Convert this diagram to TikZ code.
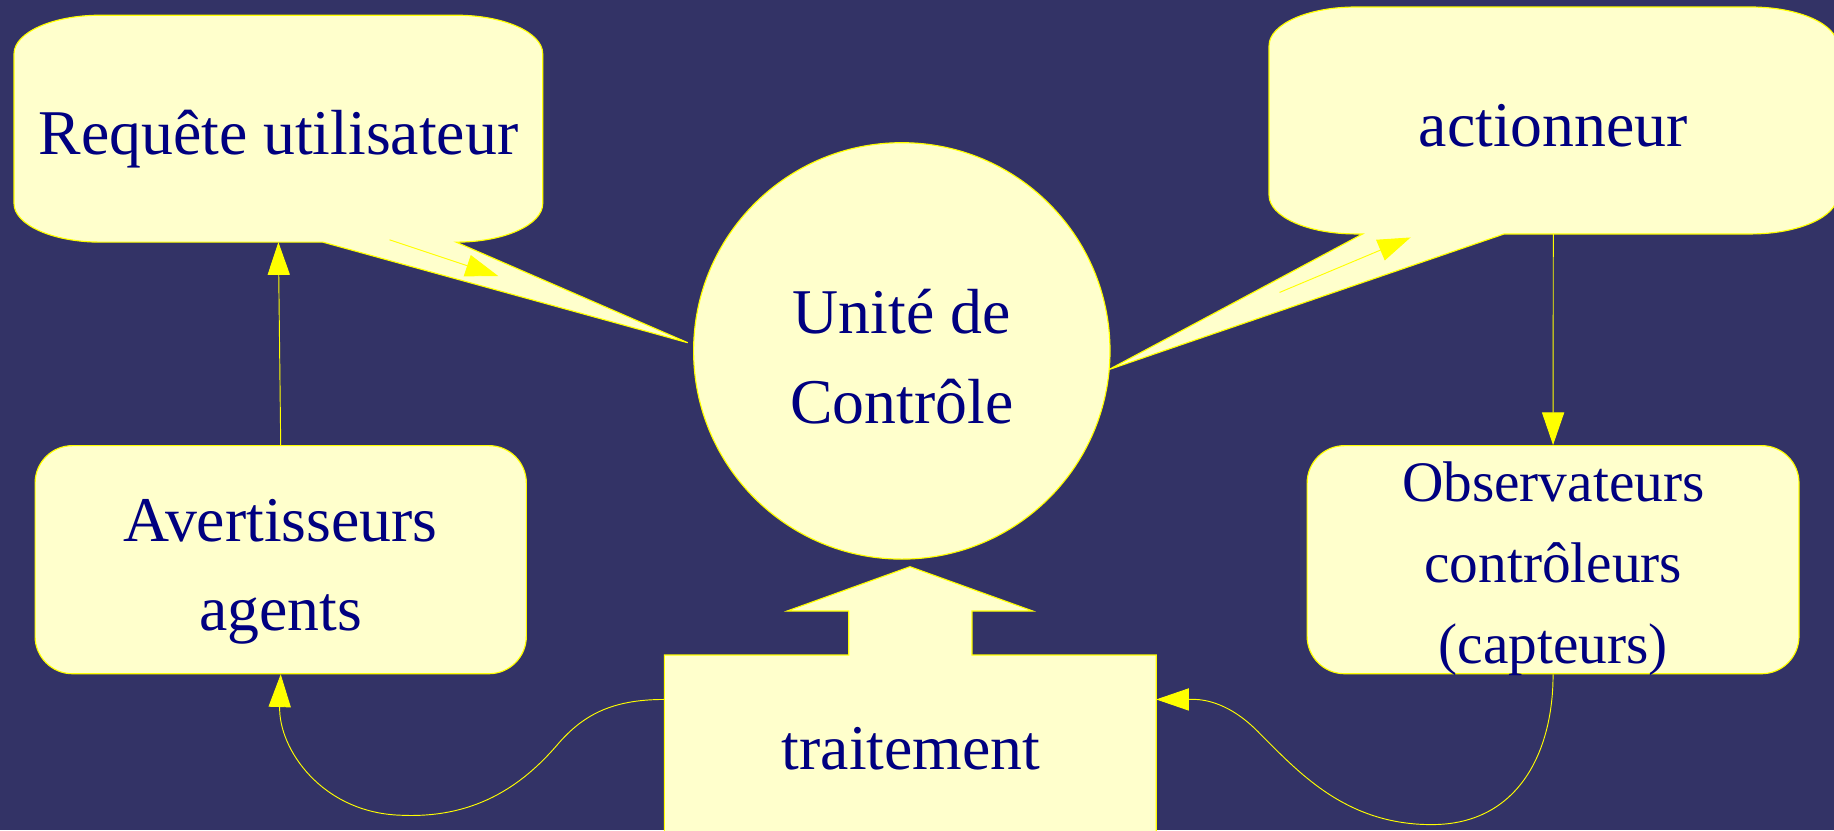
\documentclass[tikz,border=0pt]{standalone}
\usepackage{fontspec}
\setmainfont{Liberation Serif}
\usetikzlibrary{arrows.meta,calc}
\definecolor{nightbg}{RGB}{51,51,102}
\definecolor{paper}{RGB}{255,255,204}
\definecolor{ink}{RGB}{0,0,128}
\definecolor{wire}{RGB}{255,255,0}
\begin{document}
\begin{tikzpicture}[x=1pt,y=-1pt,
  shapeline/.style={draw=wire,line width=1pt,fill=paper},
  frame/.style={inner sep=0pt,outer sep=0pt},
  txt/.style={text=ink,font=\fontsize{54.5}{65}\selectfont,anchor=base,inner sep=0pt},
  smalltxt/.style={txt,font=\fontsize{49}{60}\selectfont},
  conn/.style={draw=wire,line width=0.8pt,-{Triangle[length=28pt,width=19pt]}}
]
% page and background
\useasboundingbox (0,0) rectangle (1568,710);
\fill[nightbg] (0,0) rectangle (1568,710);
\clip (0,0) rectangle (1568,710);

% frames of the callouts and of the processing block
\node[frame,minimum width=452pt,minimum height=194pt] (req) at (238,110) {};
\node[frame,minimum width=486pt,minimum height=194pt] (act) at (1328,103) {};
\node[frame,minimum width=420.5pt,minimum height=160pt] (trait) at (778.25,640) {};

% "Requête utilisateur" callout, pointing at the control unit
\path[shapeline] (86,13) -- (390,13)
  .. controls (430.9,13) and (464,27.8) .. (464,46) -- (464,174)
  .. controls (464,192.2) and (430.9,207) .. (390,207)
  -- (588,293) -- (276,207) -- (86,207)
  .. controls (45.1,207) and (12,192.2) .. (12,174) -- (12,46)
  .. controls (12,27.8) and (45.1,13) .. (86,13) -- cycle;

% "actionneur" callout, pointing at the control unit
\path[shapeline] (1159,6) -- (1497,6)
  .. controls (1537.9,6) and (1571,20.8) .. (1571,39) -- (1571,167)
  .. controls (1571,185.2) and (1537.9,200) .. (1497,200)
  -- (1286,200) -- (948,316) -- (1165,200) -- (1159,200)
  .. controls (1118.1,200) and (1085,185.2) .. (1085,167) -- (1085,39)
  .. controls (1085,20.8) and (1118.1,6) .. (1159,6) -- cycle;

% control unit
\node[shapeline,circle,minimum size=356pt,inner sep=0pt] (uc) at (771,300) {};

% side boxes
\node[shapeline,rounded corners=32pt,minimum width=420pt,minimum height=195pt,inner sep=0pt] (avert) at (240,478.5) {};
\node[shapeline,rounded corners=32pt,minimum width=420.5pt,minimum height=195pt,inner sep=0pt] (obs) at (1327.8,478.5) {};

% processing block with its upward arrow
\path[shapeline] (568,720) -- (568,560) -- (725.6,560) -- (725.6,522.4)
  -- (673,522.4) -- (778,484.5) -- (883,522.4) -- (831,522.4)
  -- (831,560) -- (988.5,560) -- (988.5,720) -- cycle;

% texts
\node[txt] (reqText) at (238,132.5) {Requête utilisateur};
\node[txt] (actText) at (1328,125.4) {actionneur};
\node[txt] (ucTextA) at (771,285) {Unité de};
\node[txt] (ucTextB) at (771,362) {Contrôle};
\node[txt] (avTextA) at (240,463) {Avertisseurs};
\node[txt] (avTextB) at (240,538.7) {agents};
\node[smalltxt] (obTextA) at (1328,429) {Observateurs};
\node[smalltxt] (obTextB) at (1328,498) {contrôleurs};
\node[smalltxt] (obTextC) at (1328,567) {(capteurs)};
\node[txt] (trText) at (779,657.8) {traitement};

% flow arrows inside the callouts
\coordinate (rqA) at (333,205);
\coordinate (rqB) at (426,236);
\draw[conn] (rqA) -- (rqB);
\coordinate (acA) at (1094,250);
\coordinate (acB) at (1206,203);
\draw[conn] (acA) -- (acB);

% connectors between the blocks
\draw[conn] (avert.north) -- (req.south);
\draw[conn] (act.south) -- (obs.north);
\draw[conn] ([yshift=-38pt]trait.north west)
  .. controls (525,598) and (500,610) .. (478,635)
  .. controls (450,668) and (410,700) .. (343,697)
  .. controls (275,695) and (238,640) .. (avert.south);
\draw[conn] (obs.south)
  .. controls (1328,640) and (1300,705) .. (1224,705)
  .. controls (1150,705) and (1110,660) .. (1075,625)
  .. controls (1045,595) and (1020,598) .. ([yshift=-38pt]trait.north east);
\end{tikzpicture}
\end{document}
